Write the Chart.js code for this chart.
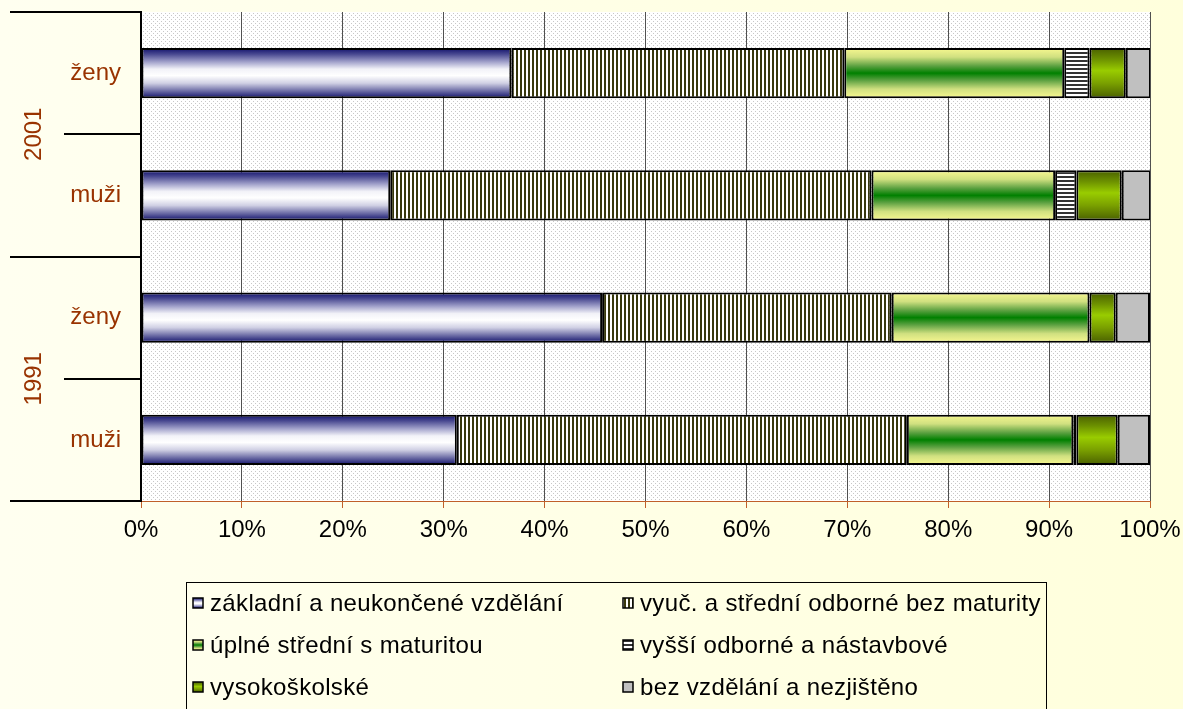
<!DOCTYPE html>
<html>
<head>
<meta charset="utf-8">
<script src="https://cdn.jsdelivr.net/npm/chart.js@4.4.0/dist/chart.umd.min.js"></script>
<style>
  html, body { margin: 0; padding: 0; background: #ffffe2; overflow: hidden; }
  canvas { display: block; }
</style>
</head>
<body>
<canvas id="vzdelani" width="1183" height="709"></canvas>
<script>
// categories top -> bottom, grouped by census year
var years = ['2001', '1991'];
var categories = ['ženy', 'muži', 'ženy', 'muži'];
var seriesNames = [
  'základní a neukončené vzdělání',
  'vyuč. a střední odborné bez maturity',
  'úplné střední s maturitou',
  'vyšší odborné a nástavbové',
  'vysokoškolské',
  'bez vzdělání a nezjištěno'
];
// shares in %, one value per category
var zakladni      = [36.7, 24.7, 45.7, 31.3];
var vyucni        = [33.0, 47.7, 28.7, 44.6];
var maturita      = [21.8, 18.2, 19.6, 16.5];
var vyssi         = [2.5, 2.1, 0, 0.3];
var vysokoskolske = [3.6, 4.5, 2.6, 4.1];
var bez           = [2.5, 2.9, 3.4, 3.2];
var xMin = 0, xMax = 100, xStep = 10;

var seriesValues = [zakladni, vyucni, maturita, vyssi, vysokoskolske, bez];
var barShare = 0.41;
var brown = '#993300';
var fontFamily = '"Liberation Sans", Arial, sans-serif';

Chart.defaults.font.family = fontFamily;

function patternFrom(w, h, paint) {
  var c = document.createElement('canvas');
  c.width = w; c.height = h;
  paint(c.getContext('2d'));
  return document.getElementById('vzdelani').getContext('2d').createPattern(c, 'repeat');
}

var dots = patternFrom(4, 4, function (g) {
  g.fillStyle = '#ffffff'; g.fillRect(0, 0, 4, 4);
  g.fillStyle = '#c8c8c8'; g.fillRect(1, 1, 1, 1); g.fillRect(3, 3, 1, 1);
});
var vStripes = patternFrom(4, 1, function (g) {
  g.fillStyle = '#ffffff'; g.fillRect(0, 0, 4, 1);
  g.fillStyle = '#38380c'; g.fillRect(0, 0, 2, 1);
});
var hStripes = patternFrom(1, 4, function (g) {
  g.fillStyle = '#ffffff'; g.fillRect(0, 0, 1, 4);
  g.fillStyle = '#333333'; g.fillRect(0, 0, 1, 2);
});

var blueStops = [[0, '#10106a'], [0.12, '#484890'], [0.28, '#a4a4cc'], [0.42, '#f2f2f8'],
                 [0.55, '#ffffff'], [0.7, '#d0d0e4'], [0.86, '#6a6aa4'], [1, '#10106a']];
var greenStops = [[0, '#f8f890'], [0.18, '#d0e080'], [0.36, '#5aa040'], [0.5, '#008000'],
                  [0.64, '#5aa040'], [0.82, '#d0e080'], [1, '#f8f890']];
var limeStops = [[0, '#4a6000'], [0.22, '#6c9000'], [0.45, '#99cc00'], [0.7, '#7aa000'], [1, '#4a6000']];

function band(ctx, top, bottom, stops) {
  var g = ctx.createLinearGradient(0, top, 0, bottom);
  stops.forEach(function (s) { g.addColorStop(s[0], s[1]); });
  return g;
}

function fillFor(ctx, i, top, bottom) {
  if (i === 0) return band(ctx, top, bottom, blueStops);
  if (i === 1) return vStripes;
  if (i === 2) return band(ctx, top, bottom, greenStops);
  if (i === 3) return hStripes;
  if (i === 4) return band(ctx, top, bottom, limeStops);
  return '#c0c0c0';
}

function barFill(i) {
  return function (c) {
    var y = c.chart.scales.y;
    if (!y || c.dataIndex === undefined) return '#c0c0c0';
    var mid = y.getPixelForValue(c.dataIndex);
    var half = (y.bottom - y.top) / categories.length * barShare / 2;
    if (!isFinite(mid) || !isFinite(half) || half <= 0) return '#c0c0c0';
    return fillFor(c.chart.ctx, i, mid - half, mid + half);
  };
}

var datasets = seriesNames.map(function (name, i) {
  return {
    label: name,
    data: seriesValues[i],
    backgroundColor: barFill(i),
    borderColor: '#000000',
    borderWidth: 2,
    borderSkipped: false
  };
});

// cream page + dotted plot area
var backdrop = {
  id: 'backdrop',
  beforeDraw: function (chart) {
    var ctx = chart.ctx, a = chart.chartArea;
    ctx.save();
    var g = ctx.createLinearGradient(0, 0, chart.width, 0);
    g.addColorStop(0, '#fffff0');
    g.addColorStop(1, '#ffffdc');
    ctx.fillStyle = g;
    ctx.fillRect(0, 0, chart.width, chart.height);
    ctx.fillStyle = dots;
    ctx.fillRect(a.left, a.top, a.right - a.left, a.bottom - a.top);
    ctx.restore();
  }
};

// two-level category axis: year groups with divider lines
var groupAxis = {
  id: 'groupAxis',
  afterDraw: function (chart) {
    var ctx = chart.ctx, y = chart.scales.y, a = chart.chartArea;
    var step = (y.bottom - y.top) / categories.length;
    ctx.save();
    ctx.strokeStyle = '#000000';
    ctx.lineWidth = 2;
    for (var k = 0; k <= categories.length; k++) {
      var py = Math.round(y.top + k * step);
      var x0 = k % 2 === 0 ? 10 : 64;
      ctx.beginPath();
      ctx.moveTo(x0, py);
      ctx.lineTo(a.left, py);
      ctx.stroke();
    }
    ctx.fillStyle = brown;
    ctx.font = '24px ' + fontFamily;
    ctx.textAlign = 'center';
    ctx.textBaseline = 'middle';
    years.forEach(function (yr, j) {
      var cy = y.top + (2 * j + 1) * step;
      ctx.save();
      ctx.translate(34, cy);
      ctx.rotate(-Math.PI / 2);
      ctx.fillText(yr, 0, 0);
      ctx.restore();
    });
    ctx.restore();
  }
};

// legend in two columns inside a framed box
var boxLegend = {
  id: 'boxLegend',
  afterDraw: function (chart) {
    var ctx = chart.ctx;
    ctx.save();
    ctx.strokeStyle = '#000000';
    ctx.lineWidth = 1;
    ctx.strokeRect(186.5, 582.5, 860, 140);
    ctx.font = '24px ' + fontFamily;
    ctx.letterSpacing = '0.35px';
    ctx.textBaseline = 'middle';
    ctx.textAlign = 'left';
    var cols = [193, 623], rows = [603, 645, 687];
    chart.data.datasets.forEach(function (ds, i) {
      var x = cols[i % 2], yc = rows[Math.floor(i / 2)];
      var top = yc - 5;
      ctx.fillStyle = fillFor(ctx, i, top, top + 10);
      ctx.fillRect(x, top, 10, 10);
      ctx.lineWidth = 1.5;
      ctx.strokeStyle = '#000000';
      ctx.strokeRect(x, top, 10, 10);
      ctx.fillStyle = '#000000';
      ctx.fillText(ds.label, x + 17, yc + 1);
    });
    ctx.restore();
  }
};

new Chart(document.getElementById('vzdelani'), {
  type: 'bar',
  data: { labels: categories, datasets: datasets },
  plugins: [backdrop, groupAxis, boxLegend],
  options: {
    responsive: false,
    animation: false,
    indexAxis: 'y',
    layout: { padding: { top: 12, right: 33, bottom: 158, left: 0 } },
    datasets: { bar: { categoryPercentage: 1, barPercentage: barShare } },
    scales: {
      x: {
        stacked: true,
        min: xMin,
        max: xMax,
        afterFit: function (s) { s.height = 50; s.paddingLeft = 0; s.paddingRight = 0; },
        ticks: {
          stepSize: xStep,
          color: '#000000',
          font: { size: 24 },
          padding: 8,
          maxRotation: 0,
          callback: function (v) { return v + '%'; }
        },
        grid: { color: '#505050', lineWidth: 1, tickColor: '#c0602a', tickLength: 7 },
        border: { color: '#c0602a', width: 1 }
      },
      y: {
        stacked: true,
        afterFit: function (s) { s.width = 141; s.paddingTop = 0; s.paddingBottom = 0; },
        ticks: { color: brown, font: { size: 24 }, padding: 12 },
        grid: { display: false },
        border: { display: true, color: '#000000', width: 2 }
      }
    },
    plugins: { legend: { display: false }, tooltip: { enabled: false } }
  }
});
</script>
</body>
</html>
